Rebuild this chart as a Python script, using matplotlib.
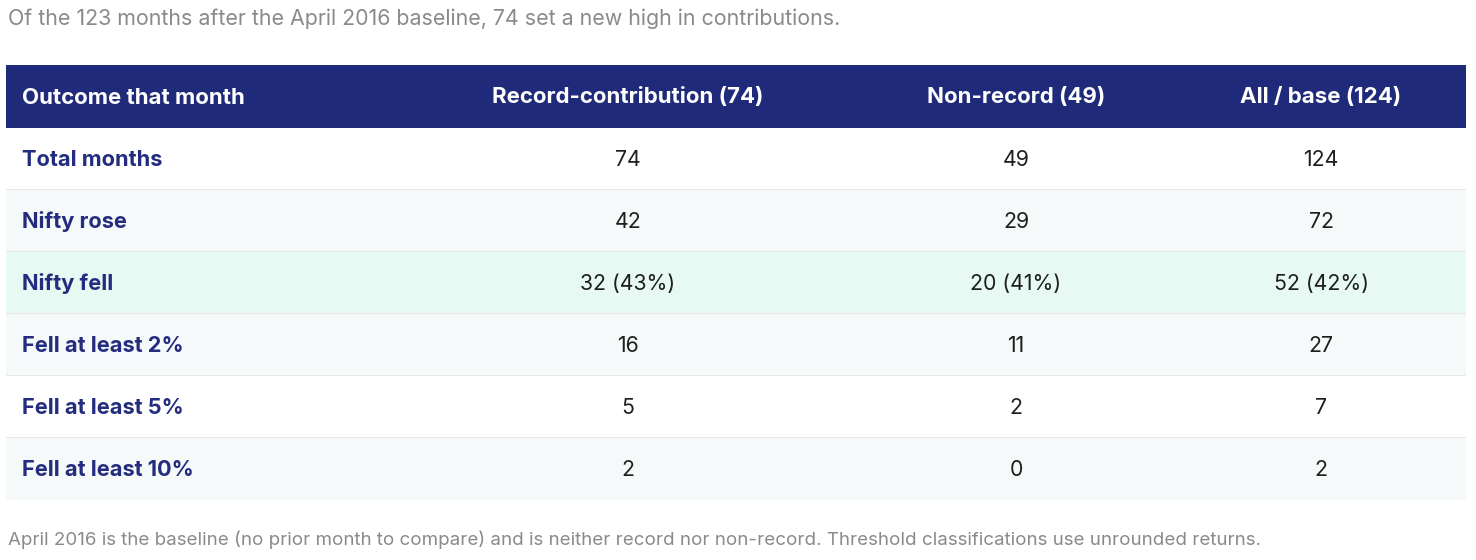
import matplotlib
matplotlib.use("Agg")
import matplotlib.pyplot as plt
from matplotlib.patches import Rectangle

plt.rcParams['font.family'] = ['Inter', 'DejaVu Sans']

# ---- data ----
subtitle = "Of the 123 months after the April 2016 baseline, 74 set a new high in contributions."
footnote = ("April 2016 is the baseline (no prior month to compare) and is neither record nor "
            "non-record. Threshold classifications use unrounded returns.")
columns = ["Outcome that month", "Record-contribution (74)", "Non-record (49)", "All / base (124)"]
row_labels = ["Total months", "Nifty rose", "Nifty fell", "Fell at least 2%",
              "Fell at least 5%", "Fell at least 10%"]
record_vals = ["74", "42", "32 (43%)", "16", "5", "2"]
nonrecord_vals = ["49", "29", "20 (41%)", "11", "2", "0"]
all_vals = ["124", "72", "52 (42%)", "27", "7", "2"]
highlight_row = "Nifty fell"

# ---- layout (pixels) ----
W, H = 1476, 560
fig = plt.figure(figsize=(W / 100, H / 100), dpi=100)
ax = fig.add_axes([0, 0, 1, 1])
ax.set_xlim(0, W)
ax.set_ylim(H, 0)
ax.axis('off')

NAVY = '#202a7a'
LABEL = '#232c7e'
VAL = '#1e1e1e'
GRAY_TXT = '#8a8a8a'
STRIPE = '#f5f9f9'
MINT = '#e6f9f3'
SEP = '#e8e8e8'

left, right = 6, 1466
col_edges = [6, 400, 856, 1176, 1466]
head_top, head_bot = 65, 128
row_h = 62

ax.text(8, 19, subtitle, fontsize=15.4, color=GRAY_TXT, va='center', ha='left')

ax.add_patch(Rectangle((left, head_top), right - left, head_bot - head_top,
                       facecolor=NAVY, edgecolor='none'))
hy = (head_top + head_bot) / 2 + 1
for i, c in enumerate(columns):
    if i == 0:
        ax.text(22, hy, c, fontsize=16, fontweight='bold', color='white',
                va='center', ha='left')
    else:
        cx = (col_edges[i] + col_edges[i + 1]) / 2
        ax.text(cx, hy, c, fontsize=16, fontweight='bold', color='white',
                va='center', ha='center')

cols_data = [record_vals, nonrecord_vals, all_vals]
n = len(row_labels)
for r, lab in enumerate(row_labels):
    top = head_bot + r * row_h
    if lab == highlight_row:
        bg = MINT
    elif r % 2 == 1:
        bg = STRIPE
    else:
        bg = 'white'
    ax.add_patch(Rectangle((left, top), right - left, row_h, facecolor=bg, edgecolor='none'))
    if r < n - 1:
        ax.add_patch(Rectangle((left, top + row_h - 1), right - left, 2,
                               facecolor=SEP, edgecolor='none'))
    cy = top + row_h / 2 + 1
    ax.text(22, cy, lab, fontsize=15.7, fontweight='bold', color=LABEL,
            va='center', ha='left')
    for j, vals in enumerate(cols_data):
        cx = (col_edges[j + 1] + col_edges[j + 2]) / 2
        ax.text(cx, cy, vals[r], fontsize=15.3, color=VAL, va='center', ha='center')

ax.text(8, 540, footnote, fontsize=13.5, color=GRAY_TXT, va='center', ha='left')

fig.savefig('out.png', dpi=100, facecolor='white')
